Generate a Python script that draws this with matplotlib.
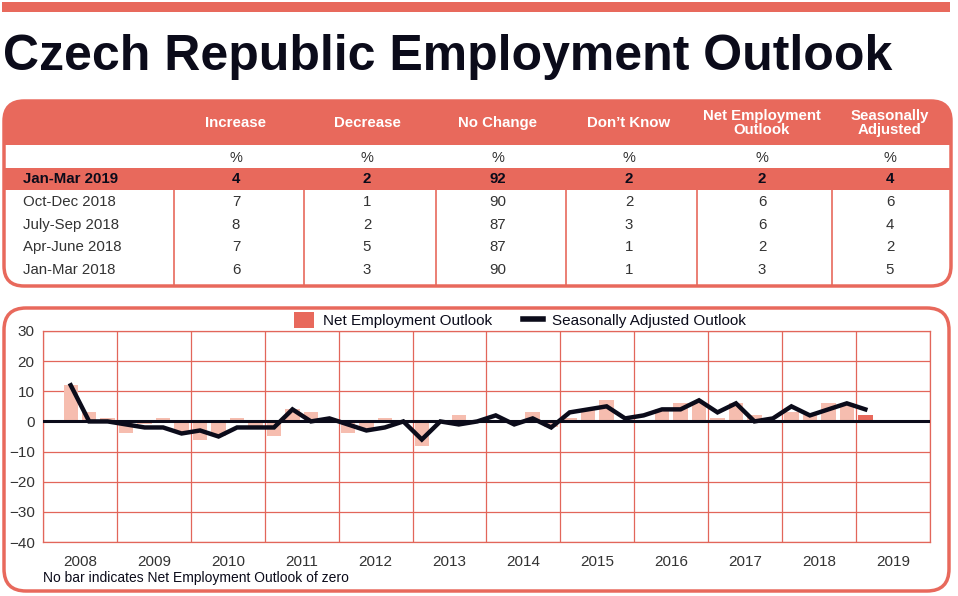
import numpy as np
import matplotlib
matplotlib.use('Agg')
import matplotlib.pyplot as plt
from matplotlib.patches import FancyBboxPatch, Rectangle, Patch
from matplotlib.lines import Line2D

plt.rcParams['font.family'] = ['Liberation Sans', 'DejaVu Sans']

# colours
RED = '#E8695C'
PINK = '#F6BDAF'
GRID = '#E2665A'
INK = '#0B0B1A'
TXT = '#333333'

# table data
col_names = ['Increase', 'Decrease', 'No Change', "Don\u2019t Know",
             'Net Employment\nOutlook', 'Seasonally\nAdjusted']
row_names = ['Jan-Mar 2019', 'Oct-Dec 2018', 'July-Sep 2018', 'Apr-June 2018', 'Jan-Mar 2018']
increase = [4, 7, 8, 7, 6]
decrease = [2, 1, 2, 5, 3]
no_change = [92, 90, 87, 87, 90]
dont_know = [2, 2, 3, 1, 1]
net_emp = [2, 6, 6, 2, 3]
seas_adj = [4, 6, 4, 2, 5]

# chart data, quarterly from 2008 Q2 to 2019 Q1
years = list(range(2008, 2020))
first_quarter = 1  # 2008 Q2 (0-based quarter within 2008)
net_outlook = [12, 3, 1,
               -4, -1, 1, -4,
               -6, -5, 1, -2,
               -5, 4, 3, 0,
               -4, -3, 1, 0,
               -8, 0, 2, 0,
               0, 0, 3, -2,
               1, 4, 7, 0,
               0, 4, 6, 6,
               1, 6, 2, 0,
               3, 2, 6, 6,
               2]
seasonal = [12, 0, 0,
            -1, -2, -2, -4,
            -3, -5, -2, -2,
            -2, 4, 0, 1,
            -1, -3, -2, 0,
            -6, 0, -1, 0,
            2, -1, 1, -2,
            3, 4, 5, 1,
            2, 4, 4, 7,
            3, 6, 0, 1,
            5, 2, 4, 6,
            4]

W, H = 958, 596
fig = plt.figure(figsize=(W / 100, H / 100), dpi=100)
bg = fig.add_axes([0, 0, 1, 1])
bg.set_xlim(0, W)
bg.set_ylim(H, 0)
bg.axis('off')

# top band and title
bg.add_patch(Rectangle((2, 2), 948, 10, color=RED, lw=0))
bg.text(3, 70, 'Czech Republic Employment Outlook', fontsize=36, fontweight='bold',
        color=INK, va='baseline', ha='left')

# ---- table ----
tl, tr, tt, tb = 4, 951, 101, 286
bg.add_patch(FancyBboxPatch((tl, tt), tr - tl, 44, boxstyle='round,pad=0,rounding_size=20',
                            fc=RED, ec=RED, lw=0))
bg.add_patch(Rectangle((tl, 120), tr - tl, 25, fc=RED, ec=RED, lw=0))
bg.add_patch(Rectangle((tl, 168), tr - tl, 22, fc=RED, ec=RED, lw=0))
bg.add_patch(FancyBboxPatch((tl, tt), tr - tl, tb - tt, boxstyle='round,pad=0,rounding_size=20',
                            fc='none', ec=RED, lw=2.5))

col_x = [236, 367, 498, 629, 762, 890]
sep_x = [174, 304, 436, 566, 697, 832]
for sx in sep_x:
    bg.plot([sx, sx], [190, tb], color=RED, lw=1.2)

for cx, name in zip(col_x, col_names):
    bg.text(cx, 123, name, ha='center', va='center', color='white', fontsize=10.8,
            fontweight='bold', linespacing=1.05)
    bg.text(cx, 158, '%', ha='center', va='center', color=TXT, fontsize=10.5)

row_y = [179, 202, 225, 247, 270]
cols = [increase, decrease, no_change, dont_know, net_emp, seas_adj]
for r, (ry, rname) in enumerate(zip(row_y, row_names)):
    bold = 'bold' if r == 0 else 'normal'
    color = INK if r == 0 else TXT
    bg.text(23, ry, rname, ha='left', va='center', fontsize=10.8, fontweight=bold, color=color)
    for cx, col in zip(col_x, cols):
        bg.text(cx, ry, str(col[r]), ha='center', va='center', fontsize=10.8,
                fontweight=bold, color=color)

# ---- chart box ----
bg.add_patch(FancyBboxPatch((4, 308), 945, 283, boxstyle='round,pad=0,rounding_size=22',
                            fc='white', ec=RED, lw=2.5))

ax = fig.add_axes([43 / W, 1 - 542 / H, (930 - 43) / W, (542 - 331) / H])
n_slots = 4 * len(years)
x = np.arange(len(net_outlook)) + first_quarter + 0.5
bar_colors = [PINK] * (len(net_outlook) - 1) + [RED]
ax.bar(x, net_outlook, width=0.78, color=bar_colors, zorder=2)
ax.axhline(0, color=INK, lw=2.2, zorder=3)
ax.plot(x, seasonal, color=INK, lw=3.2, zorder=4, solid_joinstyle='miter')

ax.set_xlim(0, n_slots)
ax.set_ylim(-40, 30)
ax.set_yticks(range(-40, 31, 10))
ax.set_xticks(np.arange(0, n_slots + 1, 4), minor=False)
ax.set_xticklabels([])
ax.set_xticks(np.arange(2, n_slots, 4), minor=True)
ax.set_xticklabels([str(y) for y in years], minor=True)
ax.grid(True, which='major', color=GRID, lw=0.9, zorder=1)
ax.set_axisbelow(True)
ax.tick_params(which='both', length=0, labelsize=11, colors=TXT)
ax.tick_params(axis='x', which='minor', pad=9)
ax.tick_params(axis='y', pad=6)
for s in ax.spines.values():
    s.set_color(GRID)
    s.set_linewidth(0.9)

handles = [Patch(facecolor=RED, edgecolor='none'),
           Line2D([], [], color=INK, lw=4)]
fig.legend(handles, ['Net Employment Outlook', 'Seasonally Adjusted Outlook'],
           loc='center', bbox_to_anchor=(520 / W, 1 - 320 / H), ncol=2, frameon=False,
           fontsize=11, handlelength=1.3, handleheight=1.2, columnspacing=2.0,
           handletextpad=0.6, labelcolor=INK)

bg.text(43, 578, 'No bar indicates Net Employment Outlook of zero', ha='left', va='center',
        fontsize=10, color=INK)

fig.savefig('out.png', dpi=100)
